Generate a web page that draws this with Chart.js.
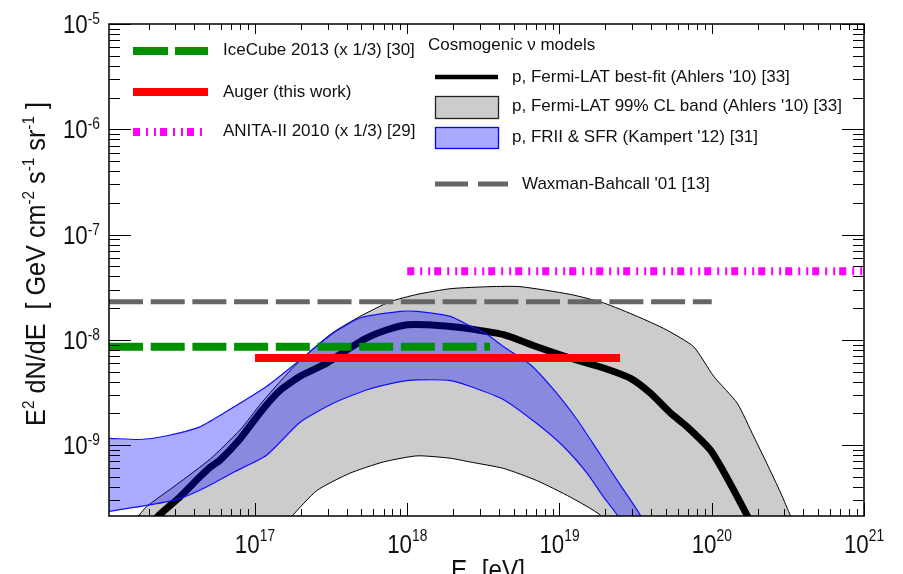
<!DOCTYPE html>
<html>
<head>
<meta charset="utf-8">
<script src="https://cdn.jsdelivr.net/npm/chart.js@4.4.1/dist/chart.umd.min.js"></script>
<style>
  html, body { margin: 0; padding: 0; background: #fff; }
  #wrap { width: 903px; height: 574px; }
</style>
</head>
<body>
<div id="wrap"><canvas id="fluxChart" width="903" height="574"></canvas></div>
<script>
// Limites e modelo cosmogênico (E em eV, fluxo em GeV cm^-2 s^-1 sr^-1)

const xMin = 1.1e16, xMax = 1e21;
const yMin = 2.12e-10, yMax = 1e-5;
const xTickExps = [17, 18, 19, 20, 21];
const yTickExps = [-9, -8, -7, -6, -5];

// p, Fermi-LAT best-fit (Ahlers '10)
const bestFitE = [2.0e16, 2.3e16, 3.2e16, 4.35e16, 5.1e16, 5.9e16, 8.0e16, 1.1e17, 1.46e17, 1.98e17, 2.96e17, 4.0e17, 5.4e17, 7.3e17, 1.0e18, 1.35e18, 2.0e18, 2.6e18, 4.3e18, 7.1e18, 1.18e19, 1.95e19, 2.93e19, 3.97e19, 5.4e19, 6.9e19, 9.8e19, 1.15e20, 1.4e20, 1.72e20, 1.85e20];
const bestFitFlux = [1.6e-10, 2.1e-10, 3.2e-10, 5.0e-10, 6.2e-10, 7.2e-10, 1.15e-9, 2.1e-9, 3.3e-9, 4.5e-9, 6.0e-9, 8.0e-9, 1.04e-8, 1.24e-8, 1.39e-8, 1.39e-8, 1.33e-8, 1.27e-8, 1.12e-8, 8.6e-9, 6.7e-9, 5.4e-9, 4.3e-9, 3.1e-9, 2.0e-9, 1.49e-9, 9.0e-10, 6.2e-10, 3.7e-10, 2.1e-10, 1.6e-10];

// p, Fermi-LAT 99% CL band
const grayUpperE = [1.5e16, 1.67e16, 1.94e16, 3.05e16, 5.1e16, 8.0e16, 1.1e17, 1.46e17, 1.79e17, 2.42e17, 3.27e17, 4.9e17, 7.7e17, 1.16e18, 1.92e18, 3.5e18, 5.5e18, 1.18e19, 1.95e19, 3.24e19, 5.0e19, 7.6e19, 1.03e20, 1.47e20, 1.89e20, 2.3e20, 2.84e20, 3.3e20, 3.6e20];
const grayUpperFlux = [1.5e-10, 2.0e-10, 2.6e-10, 4.2e-10, 7.4e-10, 1.4e-9, 2.5e-9, 4.0e-9, 5.5e-9, 8.3e-9, 1.18e-8, 1.67e-8, 2.3e-8, 2.7e-8, 3.06e-8, 3.2e-8, 3.2e-8, 2.7e-8, 2.24e-8, 1.67e-8, 1.25e-8, 8.6e-9, 4.5e-9, 2.5e-9, 1.2e-9, 6.7e-10, 3.5e-10, 2.1e-10, 1.5e-10];
const grayLowerE = [1.5e16, 1.4e17, 1.74e17, 2.55e17, 4.2e17, 6.95e17, 1.16e18, 1.92e18, 2.6e18, 4.3e18, 7.1e18, 1.18e19, 1.86e19, 2.1e19];
const grayLowerFlux = [1.0e-11, 1.5e-10, 2.1e-10, 3.7e-10, 5.4e-10, 6.9e-10, 7.9e-10, 7.5e-10, 6.9e-10, 6.0e-10, 4.6e-10, 3.2e-10, 2.15e-10, 1.5e-10];

// p, FRII & SFR (Kampert '12)
const blueUpperE = [1.0e16, 1.11e16, 1.75e16, 2.6e16, 4.35e16, 6.2e16, 1.19e17, 1.98e17, 3.27e17, 4.9e17, 9.0e17, 1.16e18, 1.92e18, 2.6e18, 3.2e18, 4.3e18, 6.45e18, 9.2e18, 1.31e19, 1.77e19, 2.4e19, 3.4e19, 3.7e19];
const blueUpperFlux = [1.16e-9, 1.16e-9, 1.13e-9, 1.22e-9, 1.49e-9, 2.0e-9, 3.6e-9, 6.45e-9, 1.16e-8, 1.61e-8, 1.86e-8, 1.86e-8, 1.67e-8, 1.35e-8, 1.18e-8, 8.6e-9, 5.8e-9, 3.34e-9, 1.73e-9, 9.0e-10, 4.6e-10, 2.15e-10, 1.5e-10];
const blueLowerE = [1.0e16, 1.11e16, 2.04e16, 3.2e16, 4.8e16, 7.2e16, 1.19e17, 1.98e17, 3.27e17, 5.4e17, 9.0e17, 1.16e18, 1.92e18, 2.6e18, 4.3e18, 7.1e18, 1.07e19, 1.52e19, 1.95e19, 2.4e19, 2.6e19];
const blueLowerFlux = [2.3e-10, 2.35e-10, 2.7e-10, 3.1e-10, 4.0e-10, 5.5e-10, 8.0e-10, 1.65e-9, 2.5e-9, 3.34e-9, 4.0e-9, 4.16e-9, 4.1e-9, 3.6e-9, 2.7e-9, 1.6e-9, 9.6e-10, 5.4e-10, 3.2e-10, 2.15e-10, 1.5e-10];

// Limites (linhas horizontais): faixa de energia e nível
const iceCubeRange = [1.1e16, 3.5e18];
const iceCubeLevel = 8.6e-9;
const augerRange = [1.0e17, 2.5e19];
const augerLevel = 6.7e-9;
const anitaRange = [1.0e18, 1.0e21];
const anitaLevel = 4.47e-8;
const waxmanRange = [1.1e16, 1.0e20];
const waxmanLevel = 2.3e-8;

const FONT = '"Liberation Sans", Arial, Helvetica, sans-serif';
const ANITA_DASH = [7, 6, 2, 6, 2, 4];
const LONG_DASH = [34, 7.7];

function pts(es, fs) {
    return es.map((e, i) => ({ x: e, y: fs[i] }));
}
function band(upE, upF, loE, loF) {
    return pts(upE, upF).concat(pts(loE, loF).reverse());
}
function hline(range, level) {
    return range.map(e => ({ x: e, y: level }));
}

// texto com sobrescritos: parts = [texto, tamanho, deslocamento]
function richText(ctx, parts, x, y, align, sx) {
    sx = sx || 1;
    let total = 0;
    parts.forEach(p => {
        ctx.font = p[1] + 'px ' + FONT;
        total += ctx.measureText(p[0]).width;
    });
    let start = x;
    if (align === 'center') start = x - total * sx / 2;
    else if (align === 'right') start = x - total * sx;
    ctx.save();
    ctx.translate(start, y);
    ctx.scale(sx, 1);
    ctx.textAlign = 'left';
    ctx.textBaseline = 'alphabetic';
    let cx = 0;
    parts.forEach(p => {
        ctx.font = p[1] + 'px ' + FONT;
        ctx.fillText(p[0], cx, p[2]);
        cx += ctx.measureText(p[0]).width;
    });
    ctx.restore();
}

// Moldura, marcas e rótulos dos eixos
const axesPlugin = {
    id: 'axesPlugin',
    afterDatasetsDraw(chart) {
        const { ctx, chartArea: a, scales: { x, y } } = chart;
        ctx.save();
        ctx.strokeStyle = '#000';
        ctx.lineWidth = 1;
        ctx.beginPath();
        for (let d = 16; d <= 21; d++) {
            for (let m = 1; m <= 9; m++) {
                const v = m * Math.pow(10, d);
                if (v < xMin || v > xMax * 1.0001) continue;
                const px = Math.round(x.getPixelForValue(v)) + 0.5;
                const lb = m === 1 ? 13 : 7;
                const lt = m === 1 ? 10 : 6;
                ctx.moveTo(px, a.bottom); ctx.lineTo(px, a.bottom - lb);
                ctx.moveTo(px, a.top); ctx.lineTo(px, a.top + lt);
            }
        }
        for (let d = -10; d <= -5; d++) {
            for (let m = 1; m <= 9; m++) {
                const v = m * Math.pow(10, d);
                if (v < yMin || v > yMax * 1.0001) continue;
                const py = Math.round(y.getPixelForValue(v)) + 0.5;
                const l = m === 1 ? 22 : 11;
                ctx.moveTo(a.left, py); ctx.lineTo(a.left + l, py);
                ctx.moveTo(a.right, py); ctx.lineTo(a.right - l, py);
            }
        }
        ctx.stroke();
        ctx.lineWidth = 1.5;
        ctx.strokeRect(a.left, a.top, a.right - a.left, a.bottom - a.top);

        ctx.fillStyle = '#111';
        xTickExps.forEach(e => {
            const px = x.getPixelForValue(Math.pow(10, e));
            richText(ctx, [['10', 26, 0], [String(e), 16, -12]], px, a.bottom + 37, 'center', 0.86);
        });
        yTickExps.forEach(e => {
            const py = y.getPixelForValue(Math.pow(10, e));
            richText(ctx, [['10', 26, 0], [String(e), 16, -9]], a.left - 9, py + 9, 'right', 0.86);
        });

        // título do eixo x
        richText(ctx, [['E', 27, 0], ['\u03bd', 17, 6], [' [eV]', 27, 0]], 488, 579, 'center', 0.9);

        // título do eixo y
        ctx.save();
        ctx.translate(45, 264);
        ctx.rotate(-Math.PI / 2);
        richText(ctx, [['E', 28, 0], ['2', 17, -11], [' dN/dE  [ GeV cm', 28, 0], ['-2', 17, -11],
            [' s', 28, 0], ['-1', 17, -11], [' sr', 28, 0], ['-1', 17, -11], [' ]', 28, 0]], 0, 0, 'center', 0.9);
        ctx.restore();
        ctx.restore();
    }
};

// Legenda desenhada à mão
const legendPlugin = {
    id: 'legendPlugin',
    afterDraw(chart) {
        const ctx = chart.ctx;
        ctx.save();
        function seg(x1, x2, yy, color, width, dash) {
            ctx.beginPath();
            ctx.setLineDash(dash || []);
            ctx.strokeStyle = color;
            ctx.lineWidth = width;
            ctx.lineCap = 'butt';
            ctx.moveTo(x1, yy); ctx.lineTo(x2, yy);
            ctx.stroke();
            ctx.setLineDash([]);
        }
        function box(x1, y1, x2, y2, fill, stroke) {
            ctx.fillStyle = fill;
            ctx.fillRect(x1, y1, x2 - x1, y2 - y1);
            ctx.strokeStyle = stroke;
            ctx.lineWidth = 1.3;
            ctx.strokeRect(x1 + 0.5, y1 + 0.5, x2 - x1, y2 - y1);
        }
        function label(t, x, yy) {
            ctx.fillStyle = '#111';
            ctx.font = '17px ' + FONT;
            ctx.textAlign = 'left';
            ctx.textBaseline = 'middle';
            ctx.fillText(t, x, yy);
        }
        seg(133, 208, 51, '#009000', 8, [35, 7]);
        label('IceCube 2013 (x 1/3) [30]', 223, 50);
        seg(133, 208, 92, '#ff0000', 8);
        label('Auger (this work)', 223, 92);
        seg(133, 203, 132, '#ff00ff', 8, ANITA_DASH);
        label('ANITA-II 2010 (x 1/3) [29]', 223, 131);

        label('Cosmogenic \u03bd models', 428, 45);
        seg(435, 498, 77, '#000', 4.5);
        label("p, Fermi-LAT best-fit (Ahlers '10) [33]", 512, 77);
        box(435, 96, 498, 118, '#cccccc', '#222');
        label("p, Fermi-LAT 99% CL band (Ahlers '10) [33]", 512, 106);
        box(435, 127, 498, 148, '#aaaaff', '#0000ff');
        label("p, FRII & SFR (Kampert '12) [31]", 512, 137);
        seg(435, 508, 184, '#666666', 5, [33, 10]);
        label("Waxman-Bahcall '01 [13]", 522, 184);
        ctx.restore();
    }
};

const datasets = [
    {
        label: "p, Fermi-LAT 99% CL band (Ahlers '10) [33]",
        data: band(grayUpperE, grayUpperFlux, grayLowerE, grayLowerFlux),
        fill: 'shape',
        backgroundColor: '#cccccc',
        borderColor: '#000000',
        borderWidth: 1,
        tension: 0.2,
        order: 7
    },
    {
        label: "p, Fermi-LAT best-fit (Ahlers '10) [33]",
        data: pts(bestFitE, bestFitFlux),
        fill: false,
        borderColor: '#000000',
        borderWidth: 7,
        tension: 0.2,
        order: 6
    },
    {
        label: "p, FRII & SFR (Kampert '12) [31]",
        data: band(blueUpperE, blueUpperFlux, blueLowerE, blueLowerFlux),
        fill: 'shape',
        backgroundColor: 'rgba(0, 0, 255, 0.33)',
        borderColor: '#1010ff',
        borderWidth: 1.2,
        tension: 0.2,
        order: 5
    },
    {
        label: "Waxman-Bahcall '01 [13]",
        data: hline(waxmanRange, waxmanLevel),
        fill: false,
        borderColor: '#666666',
        borderWidth: 5,
        borderDash: LONG_DASH,
        order: 4
    },
    {
        label: 'IceCube 2013 (x 1/3) [30]',
        data: hline(iceCubeRange, iceCubeLevel),
        fill: false,
        borderColor: '#009000',
        borderWidth: 8,
        borderDash: LONG_DASH,
        order: 3
    },
    {
        label: 'Auger (this work)',
        data: hline(augerRange, augerLevel),
        fill: false,
        borderColor: '#ff0000',
        borderWidth: 8,
        order: 2
    },
    {
        label: 'ANITA-II 2010 (x 1/3) [29]',
        data: hline(anitaRange, anitaLevel),
        fill: false,
        borderColor: '#ff00ff',
        borderWidth: 8,
        borderDash: ANITA_DASH,
        order: 1
    }
];

new Chart(document.getElementById('fluxChart'), {
    type: 'line',
    data: { datasets: datasets },
    options: {
        responsive: false,
        devicePixelRatio: 1,
        animation: false,
        layout: { padding: { left: 109, top: 24, right: 39, bottom: 58 } },
        elements: { point: { radius: 0 } },
        datasets: { line: { clip: 0 } },
        scales: {
            x: { type: 'logarithmic', min: xMin, max: xMax, display: false },
            y: { type: 'logarithmic', min: yMin, max: yMax, display: false }
        },
        plugins: {
            legend: { display: false },
            tooltip: { enabled: false }
        }
    },
    plugins: [axesPlugin, legendPlugin]
});
</script>
</body>
</html>
